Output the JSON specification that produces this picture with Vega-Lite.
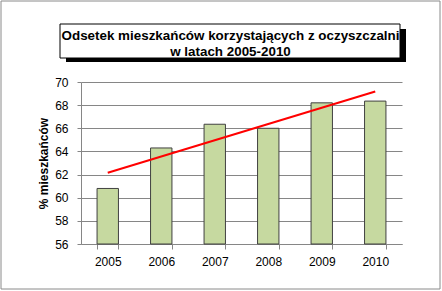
{
  "$schema": "https://vega.github.io/schema/vega-lite/v6.json",
  "width": 321,
  "height": 162,
  "autosize": {"type": "none"},
  "padding": {"left": 81, "top": 82, "right": 40, "bottom": 47},
  "background": "white",
  "title": {
    "text": ["Odsetek mieszkańców korzystających  z oczyszczalni", "w latach 2005-2010"],
    "anchor": "middle",
    "font": "Liberation Sans",
    "fontSize": 13.4,
    "fontWeight": "bold",
    "color": "black",
    "lineHeight": 16,
    "baseline": "bottom",
    "offset": -72,
    "dx": -11
  },
  "data": {
    "values": [
      {"year": 2005, "value": 60.8},
      {"year": 2006, "value": 64.3},
      {"year": 2007, "value": 66.35},
      {"year": 2008, "value": 66.0},
      {"year": 2009, "value": 68.2},
      {"year": 2010, "value": 68.35}
    ]
  },
  "encoding": {
    "x": {
      "field": "year", "type": "ordinal",
      "scale": {"paddingInner": 0.6, "paddingOuter": 0.3},
      "axis": {
        "title": null, "labelAngle": 0, "tickBand": "extent",
        "tickSize": 5, "labelPadding": 7, "labelFontSize": 12,
        "labelFont": "Liberation Sans", "labelColor": "black",
        "domainColor": "#868686", "tickColor": "#868686", "grid": false
      }
    },
    "y": {
      "field": "value", "type": "quantitative",
      "scale": {"domain": [56, 70], "nice": false, "zero": false},
      "axis": {
        "values": [56, 58, 60, 62, 64, 66, 68, 70],
        "labelOverlap": false,
        "title": "% mieszkańców", "titleFont": "Liberation Sans",
        "titleFontSize": 12, "titleFontWeight": "bold", "titleColor": "black",
        "titlePadding": 4,
        "tickSize": 4, "labelPadding": 9, "labelFontSize": 12,
        "labelFont": "Liberation Sans", "labelColor": "black",
        "domainColor": "#868686", "tickColor": "#868686",
        "grid": true, "gridColor": "#868686", "gridWidth": 1
      }
    }
  },
  "layer": [
    {
      "data": {"values": [{}]},
      "mark": {"type": "rect", "fill": null, "stroke": "#8a8a8a", "strokeWidth": 1},
      "encoding": {
        "x": {"value": -80}, "x2": {"value": 359},
        "y": {"value": -81}, "y2": {"value": 207}
      }
    },
    {
      "data": {"values": [{}]},
      "mark": {"type": "rect", "fill": "black"},
      "encoding": {
        "x": {"value": -15}, "x2": {"value": 325},
        "y": {"value": -53}, "y2": {"value": -20}
      }
    },
    {
      "data": {"values": [{}]},
      "mark": {"type": "rect", "fill": "white", "stroke": "black", "strokeWidth": 1},
      "encoding": {
        "x": {"value": -21}, "x2": {"value": 319},
        "y": {"value": -58}, "y2": {"value": -24}
      }
    },
    {
      "mark": {"type": "bar", "fill": "#C6D9A0", "stroke": "#404040", "strokeWidth": 1},
      "encoding": {
        "y2": {"datum": 56}
      }
    },
    {
      "transform": [{"regression": "value", "on": "year"}],
      "mark": {"type": "line", "color": "#FF0000", "strokeWidth": 2}
    }
  ],
  "config": {"view": {"stroke": null}}
}
